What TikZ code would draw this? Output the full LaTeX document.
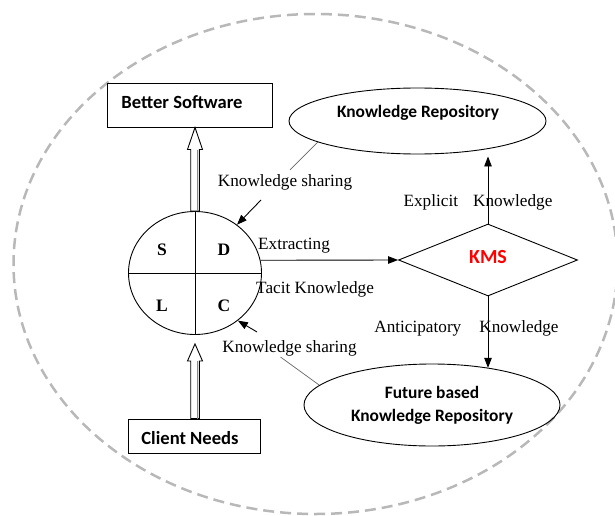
\documentclass[tikz,border=0pt]{standalone}
\usepackage{fontspec}
\setmainfont{Liberation Serif}
\newfontfamily\calib{Carlito}
\usetikzlibrary{shapes.geometric,arrows.meta,calc}
\begin{document}
\begin{tikzpicture}[x=1pt,y=-1pt,
  box/.style={draw,line width=0.9pt,inner sep=0pt,fill=white},
  btxt/.style={font=\calib\bfseries\fontsize{17.4}{23}\selectfont,inner sep=0pt},
  bigbtxt/.style={font=\calib\bfseries\fontsize{18.6}{23}\selectfont,inner sep=0pt},
  ttxt/.style={font=\fontsize{17.2}{20}\selectfont,inner sep=0pt},
  quad/.style={font=\bfseries\fontsize{17.5}{20}\selectfont,inner sep=0pt},
  blob/.style={draw,ellipse,line width=0.9pt,inner sep=0pt},
  arr/.style={line width=0.9pt,-{Triangle[length=10pt,width=7.5pt]}},
  link/.style={draw=black!60,line width=0.7pt},
  hollow/.style={draw,line width=0.9pt,fill=white}]
\useasboundingbox (0,0) rectangle (615,516);
\draw[draw=black!28,line width=2.5pt,dash pattern=on 11pt off 6pt] (315.5,264) ellipse [x radius=302, y radius=250];

% boxes
\node[box,minimum width=165pt,minimum height=44pt] (bs) at (189.5,105) {};
\node[bigbtxt] (bst) at (182,102) {Better Software};
\node[box,minimum width=132pt,minimum height=34pt] (cn) at (194,436) {};
\node[bigbtxt] (cnt) at (190,438) {Client Needs};

% SDLC circle
\node[blob,minimum width=133pt,minimum height=123pt] (circ) at (195,273) {};
\draw[line width=0.9pt] (circ.north) -- (circ.south) (circ.west) -- (circ.east);
\node[quad] (qs) at (162,250) {S};
\node[quad] (qd) at (224,250) {D};
\node[quad] (ql) at (162,306) {L};
\node[quad] (qc) at (224,306) {C};

% repositories and KMS
\node[blob,minimum width=257pt,minimum height=66pt] (kr) at (417.5,121) {};
\node[btxt] (krt) at (418,113) {Knowledge Repository};
\node[draw,diamond,aspect=2.49,minimum width=179pt,minimum height=72pt,inner sep=0pt,line width=0.9pt] (kms) at (488,260) {};
\node[font=\calib\bfseries\fontsize{20}{24}\selectfont,text=red,inner sep=0pt] (kmst) at (488,257) {KMS};
\node[blob,btxt,minimum width=256pt,minimum height=82pt,align=center] (fut) at (432,405) {Future based\\Knowledge Repository};

% hollow arrows
\draw[hollow] (circ.north |- bs.south) -- ++(-7.5,22) -- ++(3.2,0) -- ($(circ.north)+(-4.3,0)$) -- ($(circ.north)+(4.3,0)$) -- ($(circ.north |- bs.south)+(4.3,22)$) -- ++(3.2,0) -- cycle;
\draw[black!45,line width=1.2pt] ($(circ.north |- bs.south)+(2.7,22.5)$) -- ($(circ.north)+(2.7,0)$);
\draw[hollow] ($(circ.south)+(0,9)$) -- ++(-7.5,17) -- ++(3.2,0) -- ($(circ.south |- cn.north)+(-4.3,0)$) -- ($(circ.south |- cn.north)+(4.3,0)$) -- ($(circ.south)+(4.3,26)$) -- ++(3.2,0) -- cycle;
\draw[black!45,line width=1.2pt] ($(circ.south)+(2.7,26.5)$) -- ($(circ.south |- cn.north)+(2.7,0)$);

% labels
\node[ttxt,anchor=west] (ext) at (258,246) {Extracting};
\node[ttxt,anchor=west] (tac) at (256,289) {Tacit Knowledge};
\node[ttxt] (expl) at (478,202) {Explicit\hspace{15pt}Knowledge};
\node[ttxt] (anti) at (466.5,328) {Anticipatory\hspace{18pt}Knowledge};
\node[ttxt] (ks1) at (285,182) {Knowledge sharing};
\node[ttxt] (ks2) at (289.5,348) {Knowledge sharing};

% connectors
\draw[arr] (circ.11) -- (kms.west);
\draw[arr] (kms.north) -- ($(kms.north |- kr.south)+(0,2)$);
\draw[arr] (kms.south) -- (kms.south |- fut.33);
\coordinate (a1) at (261,200);
\draw[arr] (a1) -- (circ.49);
\draw[link] ($(ks1.north)+(5,-4)$) -- (kr.192);
\coordinate (a2) at (257,332);
\draw[arr] (a2) -- (circ.-48);
\draw[link] ($(ks2.south)+(-9,1)$) -- (fut.170);
\end{tikzpicture}
\end{document}
